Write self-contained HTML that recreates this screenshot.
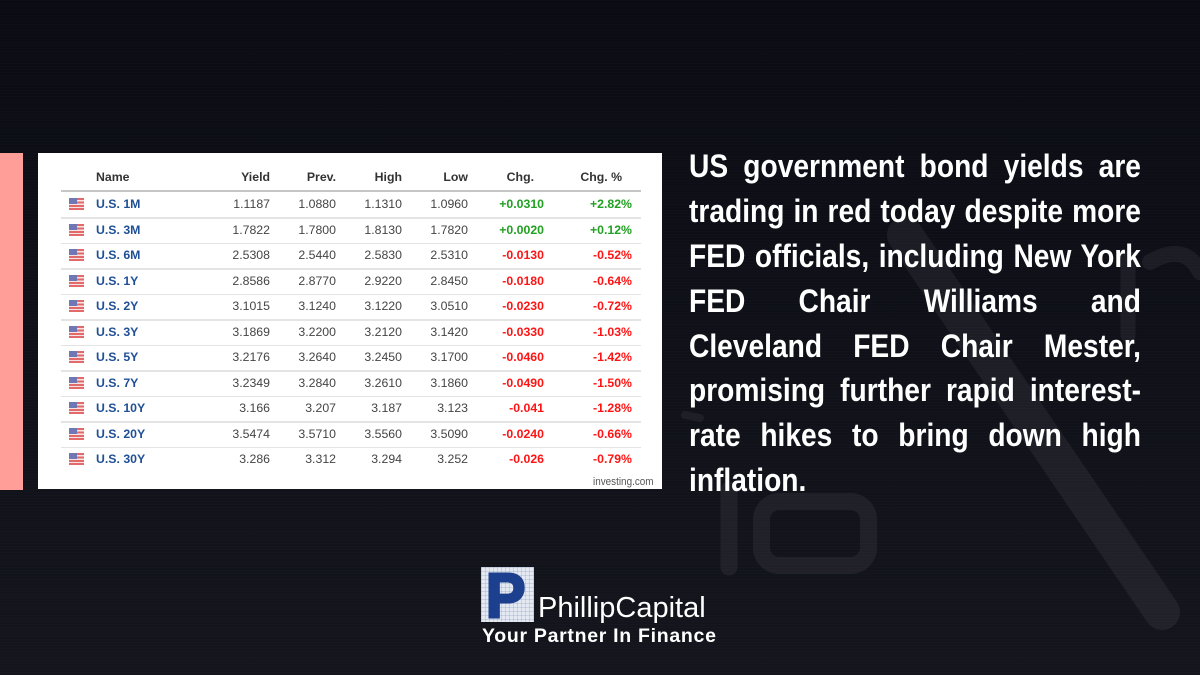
<!DOCTYPE html>
<html>
<head>
<meta charset="utf-8">
<style>
html,body{margin:0;padding:0;}
body{width:1200px;height:675px;overflow:hidden;position:relative;
  background:linear-gradient(180deg,#0b0c13 0%,#0e0f17 40%,#14151d 100%);
  font-family:"Liberation Sans",Arial,sans-serif;}
.scan{position:absolute;left:0;top:0;width:1200px;height:675px;
  background:repeating-linear-gradient(180deg,rgba(255,255,255,0.012) 0px,rgba(255,255,255,0.012) 1px,rgba(0,0,0,0) 1px,rgba(0,0,0,0) 3px);}
.pink{position:absolute;left:0;top:153px;width:23px;height:337px;background:#ff9e99;}
.box{position:absolute;left:38px;top:153px;width:624px;height:336px;background:#fff;}
.t{position:absolute;font-size:12.3px;line-height:16px;height:16px;white-space:nowrap;}
.h{font-weight:bold;color:#333;}
.n{color:#444;width:80px;text-align:right;}
.nm{font-weight:bold;color:#1f4f95;}
.g{color:#22a022;font-weight:bold;width:80px;text-align:right;}
.r{color:#ff1414;font-weight:bold;width:80px;text-align:right;}
.sep{position:absolute;left:61px;width:580px;height:1.5px;background:#e4e4e4;}
.flag{position:absolute;left:69px;width:15px;height:12px;
  background:repeating-linear-gradient(180deg,#e36a6a 0px,#e36a6a 2px,#f6e4e4 2px,#f6e4e4 3.4px);}
.flag:after{content:"";position:absolute;left:0;top:0;width:8px;height:6px;background:#6f78b4;}
.para{position:absolute;left:689px;top:144px;color:#fff;font-weight:bold;font-size:32px;line-height:44.9px;
  transform:scaleX(0.88);transform-origin:0 0;width:513.6px;}
.para div{text-align:justify;text-align-last:justify;white-space:nowrap;height:44.9px;}
.para div.last{text-align:left;text-align-last:left;}
</style>
</head>
<body>
<div class="scan"></div>
<svg style="position:absolute;left:0;top:0" width="1200" height="675">
  <g fill="none" stroke="rgba(255,255,255,0.06)" stroke-linecap="round">
    <line x1="729" y1="490" x2="729" y2="567" stroke-width="17"/>
    <rect x="761.5" y="501.5" width="107" height="64" rx="18" stroke-width="17"/>
    <line x1="905" y1="235" x2="1162" y2="612" stroke-width="36"/>
    <path d="M1150 262 Q1185 242 1200 272" stroke-width="16"/>
    <line x1="1128" y1="258" x2="1128" y2="335" stroke-width="15"/>
    <path d="M685 415 L700 418" stroke-width="8"/>
  </g>
</svg>

<div class="pink"></div>
<div class="box"></div>

<!-- header -->
<div class="t h" style="left:96px;top:169px;">Name</div>
<div class="t h" style="left:190px;top:169px;width:80px;text-align:right;">Yield</div>
<div class="t h" style="left:256px;top:169px;width:80px;text-align:right;">Prev.</div>
<div class="t h" style="left:322px;top:169px;width:80px;text-align:right;">High</div>
<div class="t h" style="left:388px;top:169px;width:80px;text-align:right;">Low</div>
<div class="t h" style="left:454px;top:169px;width:80px;text-align:right;">Chg.</div>
<div class="t h" style="left:542px;top:169px;width:80px;text-align:right;">Chg. %</div>
<div style="position:absolute;left:61px;top:190px;width:580px;height:2px;background:#c6c6c6;"></div>

<!-- rows -->
<div class="flag" style="top:198px"></div>
<div class="t nm" style="left:96px;top:196px">U.S. 1M</div>
<div class="t n" style="left:190px;top:196px">1.1187</div><div class="t n" style="left:256px;top:196px">1.0880</div><div class="t n" style="left:322px;top:196px">1.1310</div><div class="t n" style="left:388px;top:196px">1.0960</div><div class="t g" style="left:464px;top:196px">+0.0310</div><div class="t g" style="left:552px;top:196px">+2.82%</div>
<div class="sep" style="top:217px"></div>

<div class="flag" style="top:224px"></div>
<div class="t nm" style="left:96px;top:222px">U.S. 3M</div>
<div class="t n" style="left:190px;top:222px">1.7822</div><div class="t n" style="left:256px;top:222px">1.7800</div><div class="t n" style="left:322px;top:222px">1.8130</div><div class="t n" style="left:388px;top:222px">1.7820</div><div class="t g" style="left:464px;top:222px">+0.0020</div><div class="t g" style="left:552px;top:222px">+0.12%</div>
<div class="sep" style="top:242.5px"></div>

<div class="flag" style="top:249px"></div>
<div class="t nm" style="left:96px;top:247px">U.S. 6M</div>
<div class="t n" style="left:190px;top:247px">2.5308</div><div class="t n" style="left:256px;top:247px">2.5440</div><div class="t n" style="left:322px;top:247px">2.5830</div><div class="t n" style="left:388px;top:247px">2.5310</div><div class="t r" style="left:464px;top:247px">-0.0130</div><div class="t r" style="left:552px;top:247px">-0.52%</div>
<div class="sep" style="top:268px"></div>

<div class="flag" style="top:275px"></div>
<div class="t nm" style="left:96px;top:273px">U.S. 1Y</div>
<div class="t n" style="left:190px;top:273px">2.8586</div><div class="t n" style="left:256px;top:273px">2.8770</div><div class="t n" style="left:322px;top:273px">2.9220</div><div class="t n" style="left:388px;top:273px">2.8450</div><div class="t r" style="left:464px;top:273px">-0.0180</div><div class="t r" style="left:552px;top:273px">-0.64%</div>
<div class="sep" style="top:293.5px"></div>

<div class="flag" style="top:300px"></div>
<div class="t nm" style="left:96px;top:298px">U.S. 2Y</div>
<div class="t n" style="left:190px;top:298px">3.1015</div><div class="t n" style="left:256px;top:298px">3.1240</div><div class="t n" style="left:322px;top:298px">3.1220</div><div class="t n" style="left:388px;top:298px">3.0510</div><div class="t r" style="left:464px;top:298px">-0.0230</div><div class="t r" style="left:552px;top:298px">-0.72%</div>
<div class="sep" style="top:319px"></div>

<div class="flag" style="top:326px"></div>
<div class="t nm" style="left:96px;top:324px">U.S. 3Y</div>
<div class="t n" style="left:190px;top:324px">3.1869</div><div class="t n" style="left:256px;top:324px">3.2200</div><div class="t n" style="left:322px;top:324px">3.2120</div><div class="t n" style="left:388px;top:324px">3.1420</div><div class="t r" style="left:464px;top:324px">-0.0330</div><div class="t r" style="left:552px;top:324px">-1.03%</div>
<div class="sep" style="top:344.5px"></div>

<div class="flag" style="top:351px"></div>
<div class="t nm" style="left:96px;top:349px">U.S. 5Y</div>
<div class="t n" style="left:190px;top:349px">3.2176</div><div class="t n" style="left:256px;top:349px">3.2640</div><div class="t n" style="left:322px;top:349px">3.2450</div><div class="t n" style="left:388px;top:349px">3.1700</div><div class="t r" style="left:464px;top:349px">-0.0460</div><div class="t r" style="left:552px;top:349px">-1.42%</div>
<div class="sep" style="top:370px"></div>

<div class="flag" style="top:377px"></div>
<div class="t nm" style="left:96px;top:375px">U.S. 7Y</div>
<div class="t n" style="left:190px;top:375px">3.2349</div><div class="t n" style="left:256px;top:375px">3.2840</div><div class="t n" style="left:322px;top:375px">3.2610</div><div class="t n" style="left:388px;top:375px">3.1860</div><div class="t r" style="left:464px;top:375px">-0.0490</div><div class="t r" style="left:552px;top:375px">-1.50%</div>
<div class="sep" style="top:395.5px"></div>

<div class="flag" style="top:402px"></div>
<div class="t nm" style="left:96px;top:400px">U.S. 10Y</div>
<div class="t n" style="left:190px;top:400px">3.166</div><div class="t n" style="left:256px;top:400px">3.207</div><div class="t n" style="left:322px;top:400px">3.187</div><div class="t n" style="left:388px;top:400px">3.123</div><div class="t r" style="left:464px;top:400px">-0.041</div><div class="t r" style="left:552px;top:400px">-1.28%</div>
<div class="sep" style="top:421px"></div>

<div class="flag" style="top:428px"></div>
<div class="t nm" style="left:96px;top:426px">U.S. 20Y</div>
<div class="t n" style="left:190px;top:426px">3.5474</div><div class="t n" style="left:256px;top:426px">3.5710</div><div class="t n" style="left:322px;top:426px">3.5560</div><div class="t n" style="left:388px;top:426px">3.5090</div><div class="t r" style="left:464px;top:426px">-0.0240</div><div class="t r" style="left:552px;top:426px">-0.66%</div>
<div class="sep" style="top:446.5px"></div>

<div class="flag" style="top:453px"></div>
<div class="t nm" style="left:96px;top:451px">U.S. 30Y</div>
<div class="t n" style="left:190px;top:451px">3.286</div><div class="t n" style="left:256px;top:451px">3.312</div><div class="t n" style="left:322px;top:451px">3.294</div><div class="t n" style="left:388px;top:451px">3.252</div><div class="t r" style="left:464px;top:451px">-0.026</div><div class="t r" style="left:552px;top:451px">-0.79%</div>

<div class="t" style="left:593px;top:474px;font-size:11px;color:#555;transform:scaleX(0.9);transform-origin:0 0;">investing.com</div>

<!-- paragraph -->
<div class="para">
  <div>US government bond yields are</div>
  <div>trading in red today despite more</div>
  <div>FED officials, including New York</div>
  <div>FED Chair Williams and</div>
  <div>Cleveland FED Chair Mester,</div>
  <div>promising further rapid interest-</div>
  <div>rate hikes to bring down high</div>
  <div class="last">inflation.</div>
</div>

<!-- logo -->
<div style="position:absolute;left:481px;top:567px;width:53px;height:55px;background-color:#e4e9f2;
  background-image:repeating-linear-gradient(90deg,rgba(120,140,180,0.25) 0 1px,transparent 1px 4px),repeating-linear-gradient(180deg,rgba(120,140,180,0.25) 0 1px,transparent 1px 4px);overflow:hidden;">
  <div style="position:absolute;left:5px;top:-1px;font-family:'Liberation Sans',Arial,sans-serif;font-weight:bold;font-size:62px;line-height:62px;color:#1c3f8e;-webkit-text-stroke:3px #1c3f8e;transform:scaleX(0.95);transform-origin:0 0;">P</div>
</div>
<div style="position:absolute;left:538px;top:592px;font-size:29px;line-height:33px;color:#fff;white-space:nowrap;">PhillipCapital</div>
<div style="position:absolute;left:482px;top:625px;font-size:19.5px;line-height:22px;font-weight:bold;color:#fff;letter-spacing:0.7px;white-space:nowrap;">Your Partner In Finance</div>
</body>
</html>
